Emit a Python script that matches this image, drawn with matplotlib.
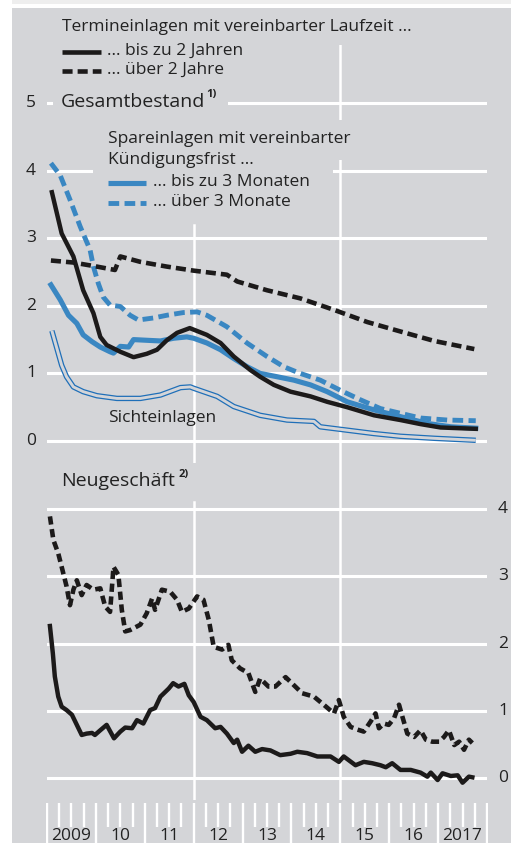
import numpy as np
import matplotlib
matplotlib.use("Agg")
import matplotlib.pyplot as plt
from matplotlib.transforms import Affine2D
from matplotlib.patches import Rectangle
from matplotlib.lines import Line2D

plt.rcParams['font.family'] = ['Open Sans', 'DejaVu Sans']

# --- Gesamtbestand (upper panel), % p.a. ---
t_bis2 = [2009.10, 2009.30, 2009.54, 2009.74, 2009.95, 2010.09, 2010.22, 2010.50, 2010.77,
          2011.04, 2011.25, 2011.45, 2011.66, 2011.92, 2012.27, 2012.55, 2012.82, 2013.16,
          2013.36, 2013.64, 2013.98, 2014.39, 2014.73, 2015.14, 2015.69, 2016.23, 2016.64,
          2017.05, 2017.77]
v_bis2 = [3.68, 3.07, 2.73, 2.23, 1.89, 1.54, 1.42, 1.32, 1.24,
          1.29, 1.35, 1.49, 1.60, 1.67, 1.57, 1.45, 1.25, 1.05,
          0.95, 0.83, 0.73, 0.66, 0.58, 0.50, 0.38, 0.31, 0.25,
          0.20, 0.18]

t_ueb2 = [2009.08, 2009.54, 2010.02, 2010.39, 2010.50, 2010.91, 2011.45, 2012.00, 2012.68,
          2012.89, 2013.50, 2014.18, 2014.87, 2015.55, 2016.23, 2016.92, 2017.74]
v_ueb2 = [2.67, 2.64, 2.58, 2.53, 2.73, 2.65, 2.58, 2.52, 2.46,
          2.36, 2.23, 2.11, 1.94, 1.76, 1.62, 1.48, 1.36]

t_bis3m = [2009.08, 2009.27, 2009.44, 2009.61, 2009.74, 2009.92, 2010.09, 2010.29, 2010.36,
           2010.50, 2010.67, 2010.77, 2011.04, 2011.32, 2011.59, 2011.86, 2012.00, 2012.27,
           2012.55, 2012.82, 2013.09, 2013.36, 2013.71, 2014.05, 2014.39, 2014.73, 2015.14,
           2015.69, 2016.23, 2016.78, 2017.26, 2017.77]
v_bis3m = [2.31, 2.09, 1.86, 1.74, 1.57, 1.47, 1.39, 1.32, 1.30,
           1.40, 1.39, 1.50, 1.49, 1.48, 1.52, 1.54, 1.52, 1.45,
           1.35, 1.22, 1.10, 1.00, 0.95, 0.90, 0.83, 0.73, 0.58,
           0.46, 0.36, 0.26, 0.21, 0.19]

t_ueb3m = [2009.08, 2009.27, 2009.47, 2009.68, 2009.88, 2009.95, 2010.05, 2010.15, 2010.29,
           2010.50, 2010.70, 2010.87, 2011.18, 2011.45, 2011.79, 2012.07, 2012.27, 2012.68,
           2013.09, 2013.50, 2013.84, 2014.18, 2014.59, 2015.00, 2015.41, 2015.82, 2016.23,
           2016.64, 2017.19, 2017.77]
v_ueb3m = [4.11, 3.93, 3.57, 3.17, 2.83, 2.58, 2.33, 2.13, 2.01,
           1.99, 1.86, 1.79, 1.82, 1.86, 1.90, 1.91, 1.86, 1.69,
           1.45, 1.25, 1.10, 1.00, 0.90, 0.75, 0.61, 0.48, 0.41,
           0.34, 0.31, 0.30]

t_sicht = [2009.10, 2009.30, 2009.40, 2009.54, 2009.74, 2010.02, 2010.43, 2010.91, 2011.32,
           2011.73, 2011.93, 2012.00, 2012.48, 2012.82, 2013.36, 2013.91, 2014.46, 2014.59,
           2015.14, 2015.69, 2016.23, 2016.92, 2017.77]
v_sicht = [1.63, 1.12, 0.95, 0.80, 0.73, 0.67, 0.63, 0.63, 0.68,
           0.79, 0.80, 0.78, 0.66, 0.51, 0.38, 0.31, 0.29, 0.21,
           0.16, 0.11, 0.07, 0.04, 0.01]

# --- Neugeschaeft (lower panel) ---
t_neu_bis2 = [2009.06, 2009.12, 2009.16, 2009.23, 2009.30, 2009.40, 2009.51, 2009.61, 2009.71,
              2009.81, 2009.92, 2009.98, 2010.09, 2010.22, 2010.37, 2010.50, 2010.60, 2010.74,
              2010.84, 2010.97, 2011.11, 2011.21, 2011.32, 2011.49, 2011.58, 2011.69, 2011.81,
              2011.90, 2012.00, 2012.14, 2012.27, 2012.44, 2012.55, 2012.68, 2012.82, 2012.89,
              2012.99, 2013.12, 2013.26, 2013.40, 2013.57, 2013.77, 2013.98, 2014.12, 2014.32,
              2014.53, 2014.80, 2014.97, 2015.07, 2015.31, 2015.48, 2015.65, 2015.82, 2015.93,
              2016.06, 2016.23, 2016.44, 2016.64, 2016.78, 2016.85, 2016.99, 2017.09, 2017.26,
              2017.40, 2017.50, 2017.63, 2017.70]
v_neu_bis2 = [2.26, 1.85, 1.51, 1.21, 1.06, 1.01, 0.94, 0.79, 0.64,
              0.66, 0.67, 0.64, 0.71, 0.79, 0.59, 0.69, 0.75, 0.74,
              0.86, 0.81, 1.01, 1.04, 1.21, 1.33, 1.41, 1.36, 1.40,
              1.23, 1.13, 0.91, 0.86, 0.74, 0.76, 0.66, 0.52, 0.57,
              0.39, 0.48, 0.39, 0.43, 0.41, 0.34, 0.36, 0.39, 0.37,
              0.32, 0.32, 0.24, 0.32, 0.19, 0.24, 0.22, 0.19, 0.16,
              0.22, 0.12, 0.12, 0.08, 0.02, 0.08, -0.03, 0.07, 0.03,
              0.04, -0.07, 0.02, 0.01]

t_neu_ueb2 = [2009.06, 2009.13, 2009.23, 2009.30, 2009.40, 2009.47, 2009.54, 2009.61, 2009.71,
              2009.81, 2009.95, 2010.09, 2010.19, 2010.29, 2010.36, 2010.46, 2010.53, 2010.60,
              2010.70, 2010.91, 2011.04, 2011.15, 2011.21, 2011.35, 2011.52, 2011.66, 2011.76,
              2011.90, 2012.07, 2012.20, 2012.31, 2012.41, 2012.58, 2012.71, 2012.78, 2012.95,
              2013.12, 2013.26, 2013.36, 2013.53, 2013.67, 2013.88, 2014.05, 2014.22, 2014.46,
              2014.66, 2014.87, 2014.97, 2015.07, 2015.21, 2015.35, 2015.48, 2015.62, 2015.72,
              2015.79, 2015.89, 2015.99, 2016.10, 2016.20, 2016.27, 2016.37, 2016.51, 2016.64,
              2016.75, 2016.88, 2017.02, 2017.12, 2017.22, 2017.33, 2017.43, 2017.53, 2017.63,
              2017.70]
v_neu_ueb2 = [3.89, 3.54, 3.34, 3.14, 2.85, 2.57, 2.80, 2.94, 2.72,
              2.87, 2.80, 2.82, 2.55, 2.47, 3.14, 3.02, 2.50, 2.18,
              2.20, 2.28, 2.45, 2.67, 2.50, 2.80, 2.77, 2.65, 2.47,
              2.52, 2.70, 2.65, 2.35, 1.95, 1.91, 1.98, 1.75, 1.63,
              1.56, 1.28, 1.48, 1.36, 1.36, 1.50, 1.38, 1.26, 1.21,
              1.09, 0.96, 1.16, 0.91, 0.76, 0.72, 0.69, 0.84, 0.96,
              0.74, 0.81, 0.79, 0.89, 1.09, 0.91, 0.66, 0.61, 0.71,
              0.57, 0.54, 0.54, 0.61, 0.71, 0.49, 0.54, 0.42, 0.57,
              0.52]

years = list(range(2009, 2019))
year_labels = ["2009", "10", "11", "12", "13", "14", "15", "16", "2017"]

BG = "#d4d5d8"
BLUE = "#3a87c2"
DBLUE = "#1f6fb8"
BLACK = "#1c1a1a"
TXT = "#222222"
FS = 12.5
W, H = 511, 843

fig = plt.figure(figsize=(W / 100, H / 100), dpi=100, facecolor=BG)
px = Affine2D().scale(1 / W, -1 / H).translate(0, 1) + fig.transFigure


def box(l, t, r, b):
    return [l / W, 1 - b / H, (r - l) / W, (b - t) / H]


# white frame strips (top and left)
fig.patches.append(Rectangle((0, 0), W, 8, transform=px, facecolor="white", edgecolor="none", zorder=-1))
fig.patches.append(Rectangle((0, 0), W, 4, transform=px, facecolor="#eeeeee", edgecolor="none", zorder=-1))
fig.patches.append(Rectangle((0, 0), 12, H, transform=px, facecolor="white", edgecolor="none", zorder=-1))

X0, X1 = 47, 487
ax1 = fig.add_axes(box(X0, 45, X1, 463))
ax2 = fig.add_axes(box(X0, 463, X1, 800))
ax3 = fig.add_axes(box(X0 - 1, 803, X1 + 1, 843))
for a in (ax1, ax2, ax3):
    a.set_facecolor("none")
    a.set_zorder(2)
    for s in a.spines.values():
        s.set_visible(False)
    a.set_xticks([])
    a.set_yticks([])

ax1.set_xlim(2009, 2018)
ax1.set_ylim(-(463 - 441) / 67.6, (441 - 45) / 67.6)
ax2.set_xlim(2009, 2018)
ax2.set_ylim(-(800 - 778) / 67.25, (778 - 463) / 67.25)

# grid
for v in range(0, 6):
    ax1.axhline(v, color="white", lw=2.2, zorder=1)
for v in range(0, 5):
    ax2.axhline(v, color="white", lw=2.2, zorder=1)
f1 = lambda p: (463 - p) / (463 - 45)
f2 = lambda p: (800 - p) / (800 - 463)
ax1.axvline(2012, ymin=0, ymax=f1(225), color="white", lw=1.8, zorder=1)
ax1.axvline(2015, ymin=0, ymax=1, color="white", lw=1.8, zorder=1)
ax2.axvline(2012, ymin=0, ymax=f2(502), color="white", lw=1.8, zorder=1)
ax2.axvline(2015, ymin=0, ymax=1, color="white", lw=1.8, zorder=1)

# boxes behind legend texts (hide grid there)
for (l, t, r, b) in [(53, 86, 228, 118), (93, 120, 356, 160), (93, 160, 333, 215)]:
    ax1.add_patch(Rectangle((l, t), r - l, b - t, transform=px, facecolor=BG,
                            edgecolor="none", zorder=1.5, clip_on=False))

# upper panel lines
ax1.plot(t_sicht, v_sicht, color=DBLUE, lw=3.9, zorder=3, solid_capstyle="butt")
ax1.plot(t_sicht, v_sicht, color=BG, lw=2.1, zorder=3.1, solid_capstyle="butt")
ax1.plot(t_bis3m, v_bis3m, color=BLUE, lw=3.7, zorder=4)
ax1.plot(t_ueb3m, v_ueb3m, color=BLUE, lw=3.5, ls=(0, (2.2, 1.1)), zorder=4)
ax1.plot(t_ueb2, v_ueb2, color=BLACK, lw=3.3, ls=(0, (2.2, 1.1)), zorder=5)
ax1.plot(t_bis2, v_bis2, color=BLACK, lw=3.2, zorder=5)

# lower panel lines
ax2.plot(t_neu_ueb2, v_neu_ueb2, color=BLACK, lw=3.3, ls=(0, (1.8, 1.0)), zorder=5)
ax2.plot(t_neu_bis2, v_neu_bis2, color=BLACK, lw=3.2, zorder=5)

# bottom ticks
ax3.set_xlim(2009 - 9 / 440, 2018 + 9 / 440)
ax3.set_ylim(0, 40)
for y in years:
    ax3.plot([y, y], [0, 40], color="white", lw=1.7, solid_capstyle="butt")
    if y < 2018:
        for q in (0.25, 0.5, 0.75):
            ax3.plot([y + q, y + q], [16, 40], color="white", lw=1.7, solid_capstyle="butt")
for y, lab in zip(years[:-1], year_labels):
    ax3.text(y + 0.5, 7, lab, ha="center", va="center", fontsize=FS, color=TXT)

# axis labels
for v in range(0, 6):
    fig.text(31, 441 - v * 67.6, str(v), transform=px, ha="center", va="center", fontsize=FS, color=TXT)
for v in range(0, 5):
    fig.text(503, 778 - v * 67.25, str(v), transform=px, ha="center", va="center", fontsize=FS, color=TXT)


# texts and legend
def t(x, y, s, **kw):
    kw.setdefault("fontsize", FS)
    fig.text(x, y, s, transform=px, ha="left", va="center", color=TXT, zorder=6, **kw)


t(62, 27, "Termineinlagen mit vereinbarter Laufzeit ...")
fig.lines.append(Line2D([62, 101], [52, 52], transform=px, color=BLACK, lw=3.3, solid_capstyle="butt"))
t(107, 51, "... bis zu 2 Jahren")
fig.lines.append(Line2D([62, 101], [71, 71], transform=px, color=BLACK, lw=3.3, ls=(0, (2.2, 1.1))))
t(107, 70, "... über 2 Jahre")
t(61, 102, "Gesamtbestand", fontsize=14)
t(206, 95, "1)", fontsize=8, fontweight="bold")
t(108, 139, "Spareinlagen mit vereinbarter")
t(108, 160, "Kündigungsfrist ...")
fig.lines.append(Line2D([108, 146], [183, 183], transform=px, color=BLUE, lw=3.7, solid_capstyle="butt"))
t(153, 182, "... bis zu 3 Monaten")
fig.lines.append(Line2D([108, 146], [203, 203], transform=px, color=BLUE, lw=3.5, ls=(0, (2.2, 1.1))))
t(153, 202, "... über 3 Monate")
t(108, 418, "Sichteinlagen")
t(61, 481, "Neugeschäft", fontsize=14)
t(179, 474, "2)", fontsize=8, fontweight="bold")

fig.savefig("out.png", dpi=100, facecolor=fig.get_facecolor())
